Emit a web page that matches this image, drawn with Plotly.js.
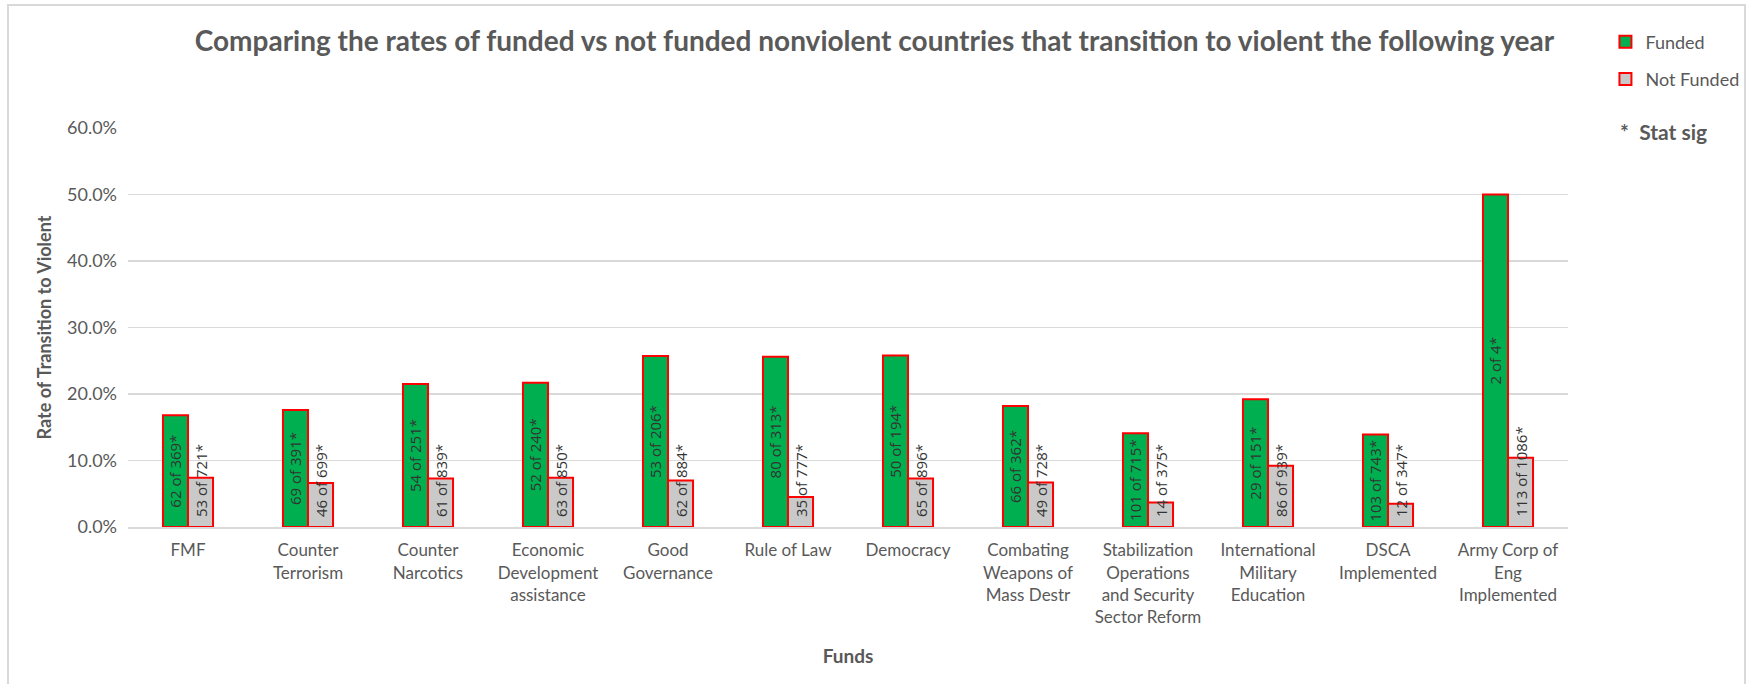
<!DOCTYPE html>
<html>
<head>
<meta charset="utf-8">
<script src="https://cdn.plot.ly/plotly-3.0.1.min.js"></script>
<style>
  html, body { margin: 0; padding: 0; background: #ffffff; }
  #wrap { position: relative; width: 1749px; height: 684px; overflow: hidden; }
  #chart { width: 1749px; height: 684px; }
  #frame { position: absolute; left: 7px; top: 4px; width: 1739px; height: 700px;
           border: 2px solid #d9d9d9; box-sizing: border-box; pointer-events: none; }
</style>
</head>
<body>
<div id="wrap">
  <div id="chart"></div>
  <div id="frame"></div>
</div>
<script>
// ---- data ----
const categories = [
  "FMF", "Counter Terrorism", "Counter Narcotics", "Economic Development assistance",
  "Good Governance", "Rule of Law", "Democracy", "Combating Weapons of Mass Destr",
  "Stabilization Operations and Security Sector Reform", "International Military Education",
  "DSCA Implemented", "Army Corp of Eng Implemented"
];
const tickLabels = [
  "FMF", "Counter<br>Terrorism", "Counter<br>Narcotics", "Economic<br>Development<br>assistance",
  "Good<br>Governance", "Rule of Law", "Democracy", "Combating<br>Weapons of<br>Mass Destr",
  "Stabilization<br>Operations<br>and Security<br>Sector Reform", "International<br>Military<br>Education",
  "DSCA<br>Implemented", "Army Corp of<br>Eng<br>Implemented"
];
const fundedRates = [0.168, 0.176, 0.215, 0.217, 0.257, 0.256, 0.258, 0.182, 0.141, 0.192, 0.139, 0.500];
const notFundedRates = [0.074, 0.066, 0.073, 0.074, 0.070, 0.045, 0.073, 0.067, 0.037, 0.092, 0.035, 0.104];
const fundedLabels = ["62 of 369*", "69 of 391*", "54 of 251*", "52 of 240*", "53 of 206*", "80 of 313*",
  "50 of 194*", "66 of 362*", "101 of 715*", "29 of 151*", "103 of 743*", "2 of 4*"];
const notFundedLabels = ["53 of 721*", "46 of 699*", "61 of 839*", "63 of 850*", "62 of 884*", "35 of 777*",
  "65 of 896*", "49 of 728*", "14 of 375*", "86 of 939*", "12 of 347*", "113 of 1086*"];
const yTickVals = [0, 0.1, 0.2, 0.3, 0.4, 0.5, 0.6];

const labelFont = { family: "Open Sans, sans-serif", size: 15, color: "#333333" };
const greyText = "#595959";

const traces = [
  {
    type: "bar", name: "Funded", x: categories, y: fundedRates,
    text: fundedLabels, textposition: "inside", insidetextanchor: "middle",
    textangle: -90, constraintext: "none", cliponaxis: false,
    insidetextfont: labelFont, outsidetextfont: labelFont, textfont: labelFont,
    marker: { color: "#00b050", line: { color: "#ff0000", width: 2 } },
    legendgroup: "a", hoverinfo: "skip"
  },
  {
    type: "bar", name: "Not Funded", x: categories, y: notFundedRates,
    marker: { color: "#c9c9c9", line: { color: "#ff0000", width: 2 } },
    legendgroup: "b", hoverinfo: "skip"
  }
];

// Not-funded labels: anchored at the bar base (like Excel "inside base")
const greyLabelAnnotations = categories.map((c, i) => ({
  text: notFundedLabels[i], x: c, xref: "x", y: 0, yref: "y",
  xshift: 12.5, yshift: 8, xanchor: "center", yanchor: "bottom",
  textangle: -90, showarrow: false, font: labelFont
}));

const layout = {
  width: 1749, height: 684,
  paper_bgcolor: "#ffffff", plot_bgcolor: "#ffffff",
  margin: { l: 128, r: 181, t: 128, b: 157, autoexpand: false },
  barmode: "group", bargap: 0.583, bargroupgap: 0,
  title: {
    text: "Comparing the rates of funded vs not funded nonviolent countries that transition to violent the following year",
    font: { family: "Lato, sans-serif", size: 28, color: greyText, weight: "bold" },
    x: 0.5, xref: "container", xanchor: "center",
    y: 1 - 41 / 684, yref: "container", yanchor: "middle"
  },
  xaxis: {
    type: "category",
    tickvals: categories, ticktext: tickLabels,
    tickfont: { family: "Lato, sans-serif", size: 17, color: greyText },
    ticks: "", ticklabelstandoff: 7,
    showline: true, linecolor: "#d9d9d9", linewidth: 2,
    showgrid: false, zeroline: false,
    title: { text: "Funds", font: { family: "Lato, sans-serif", size: 19, color: greyText, weight: "bold" }, standoff: 24 },
    automargin: false
  },
  yaxis: {
    range: [0, 0.6], tickvals: yTickVals, tickformat: ".1%",
    tickfont: { family: "Lato, sans-serif", size: 18, color: greyText },
    ticks: "", ticklabelstandoff: 10,
    showgrid: true, gridcolor: "#d9d9d9", gridwidth: 1.5,
    zeroline: false, showline: false,
    title: { text: "Rate of Transition to Violent", font: { family: "Lato, sans-serif", size: 18, color: greyText, weight: "bold" }, standoff: 10 },
    automargin: false
  },
  showlegend: true,
  legend: {
    x: 1.026, xanchor: "left", y: 1.262, yanchor: "top",
    orientation: "v", traceorder: "grouped", tracegroupgap: 11,
    font: { family: "Lato, sans-serif", size: 18, color: greyText },
    bgcolor: "rgba(0,0,0,0)", itemwidth: 30
  },
  annotations: [
    {
      text: "<b>*  Stat sig</b>", xref: "paper", yref: "paper",
      x: 1.035, y: 0.99, xanchor: "left", yanchor: "middle", showarrow: false,
      font: { family: "Lato, sans-serif", size: 21, color: greyText }
    }
  ].concat(greyLabelAnnotations)
};

Plotly.newPlot("chart", traces, layout, { displayModeBar: false, staticPlot: true });
</script>
</body>
</html>
